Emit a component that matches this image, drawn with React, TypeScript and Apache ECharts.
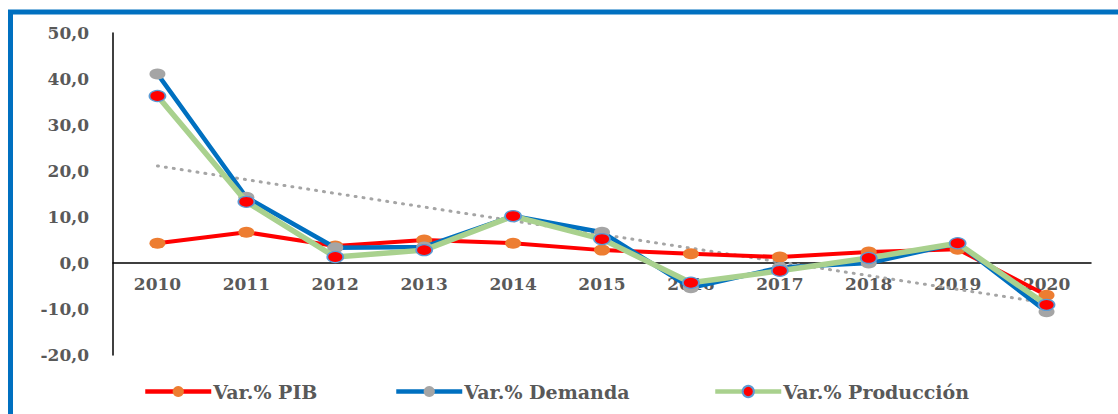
import React, { useEffect, useRef } from "react";
import * as echarts from "echarts";

const years = ["2010", "2011", "2012", "2013", "2014", "2015", "2016", "2017", "2018", "2019", "2020"];
const pib = [4.3, 6.7, 3.7, 5.0, 4.3, 2.8, 2.0, 1.3, 2.4, 3.0, -7.0];
const demanda = [41.1, 14.3, 3.3, 3.5, 10.2, 6.7, -5.4, -1.0, 0.0, 4.3, -10.6];
const produccion = [36.3, 13.3, 1.3, 2.8, 10.2, 5.2, -4.3, -1.7, 1.1, 4.3, -9.1];
const trend = [21.1, null, null, null, null, null, null, null, null, null, -8.7];
const seriesNames = ["Var.% PIB", "Var.% Demanda", "Var.% Producción"];

const font = "DejaVu Serif";
const textGray = "#595959";

export default function App() {
  const ref = useRef<HTMLDivElement>(null);
  useEffect(() => {
    document.body.style.margin = "0";
    const chart = echarts.init(ref.current!, null, { renderer: "svg" });
    const legendBase = {
      top: 382,
      padding: 0,
      itemWidth: 66,
      itemHeight: 14,
      lineStyle: { width: 4.5 },
      textStyle: { fontFamily: font, fontWeight: "bold", fontSize: 19, color: textGray, padding: [0, 0, 0, -3] },
    };
    chart.setOption({
      animation: false,
      backgroundColor: "#ffffff",
      textStyle: { fontFamily: font },
      graphic: [
        {
          type: "rect",
          shape: { x: 10.5, y: 12, width: 1200, height: 500 },
          style: { fill: "none", stroke: "#0070C0", lineWidth: 5 },
          z: 100,
        },
      ],
      grid: { left: 113, right: 27, top: 33, bottom: 59, containLabel: false },
      legend: [
        { ...legendBase, left: 143, data: [seriesNames[0]] },
        { ...legendBase, left: 394, data: [seriesNames[1]] },
        { ...legendBase, left: 713, data: [seriesNames[2]] },
      ],
      xAxis: {
        type: "category",
        data: years,
        boundaryGap: true,
        axisLine: { onZero: true, lineStyle: { color: "#000000", width: 1.5 } },
        axisTick: { show: false },
        axisLabel: { margin: -80, fontFamily: font, fontWeight: "bold", fontSize: 17, color: textGray },
        splitLine: { show: false },
      },
      yAxis: {
        type: "value",
        min: -20,
        max: 50,
        interval: 10,
        axisLine: { show: true, lineStyle: { color: "#000000", width: 1.5 } },
        axisTick: { show: false },
        splitLine: { show: false },
        axisLabel: {
          margin: 24,
          fontFamily: font,
          fontWeight: "bold",
          fontSize: 17,
          color: textGray,
          formatter: (v: number) => v.toFixed(1).replace(".", ","),
        },
      },
      series: [
        {
          name: "trend",
          type: "line",
          data: trend,
          connectNulls: true,
          symbol: "none",
          lineStyle: { color: "#A5A5A5", width: 3, type: [1, 7], cap: "round" },
          z: 1,
        },
        {
          name: seriesNames[0],
          type: "line",
          data: pib,
          symbol: "circle",
          symbolSize: [16, 11],
          lineStyle: { color: "#FF0000", width: 4 },
          itemStyle: { color: "#ED7D31", borderWidth: 0 },
          z: 2,
        },
        {
          name: seriesNames[1],
          type: "line",
          data: demanda,
          symbol: "circle",
          symbolSize: [16, 11],
          lineStyle: { color: "#0070C0", width: 4.5 },
          itemStyle: { color: "#A5A5A5", borderWidth: 0 },
          z: 3,
        },
        {
          name: seriesNames[2],
          type: "line",
          data: produccion,
          symbol: "circle",
          symbolSize: [16, 11],
          lineStyle: { color: "#A9D18E", width: 5.5 },
          itemStyle: { color: "#FF0000", borderColor: "#5B9BD5", borderWidth: 1.5 },
          z: 4,
        },
      ],
    });
    return () => chart.dispose();
  }, []);
  return (
    <div
      ref={ref}
      style={{ position: "absolute", left: 0, top: 0, width: 1118, height: 414, background: "#fff" }}
    />
  );
}
